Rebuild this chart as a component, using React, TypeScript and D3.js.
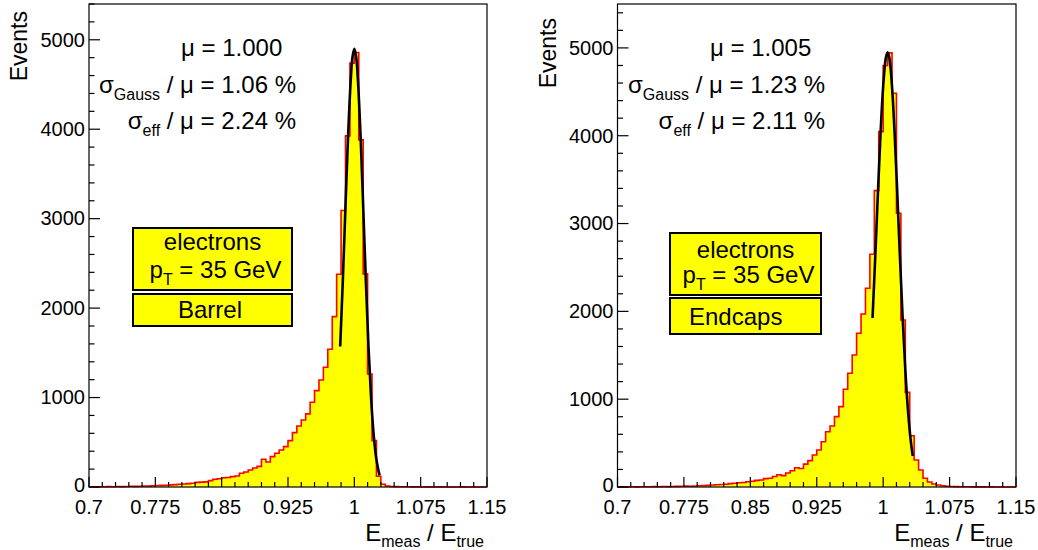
import React from "react";
import * as d3 from "d3";

// ---------- data ----------
const binLow = 0.7;
const binHigh = 1.15;
const binWidth = 0.005;

const barrelCounts = [
  2, 1, 3, 2, 4, 3, 5, 4, 6, 8, 7, 9, 12, 10, 14,
  16, 18, 20, 24, 26, 30, 34,
  38, 42, 52, 55, 57, 71, 86, 92,
  103, 107, 116, 123, 153, 168, 190, 213, 231,
  310, 280, 340, 378, 414, 451,
  518, 608, 682, 749, 817, 947, 1077, 1197, 1339, 1540, 1905, 2379, 3091, 3926, 4739,
  4858, 3881, 2383, 1264, 518, 120, 30, 12, 6, 4,
  3, 2, 2, 1, 1, 0, 1, 0, 0, 1, 0, 0, 0, 0, 1, 0, 0, 0, 0, 0,
];

const endcapCounts = [
  0, 1, 0, 2, 1, 2, 3, 2, 4, 3,
  5, 4, 6, 7, 8, 10, 9, 12, 14, 16,
  18, 22, 25, 28, 32, 38, 42, 48, 52, 60,
  65, 75, 80, 95, 100, 120, 140, 130, 160, 185, 220, 210, 260, 300,
  364, 421, 516, 630, 695, 801, 915, 1113, 1295, 1503, 1750, 1970, 2263, 2650, 3375, 4047,
  4800, 4943, 4484, 3117, 1902, 1078, 584, 307, 193, 100,
  57, 35, 22, 14, 9, 6, 4, 3, 2, 2,
  1, 1, 1, 0, 1, 0, 0, 0, 0, 0,
];

// fit curves, points
const barrelFitX = [0.984, 0.987, 0.99, 0.993, 0.996, 0.998, 1.0, 1.002, 1.004, 1.007, 1.01, 1.013, 1.016, 1.019, 1.022, 1.025, 1.0285];
const barrelFitY = [1570, 2310, 3140, 3940, 4560, 4815, 4900, 4815, 4560, 3940, 3140, 2310, 1570, 985, 570, 305, 130];
const endcapFitX = [0.988, 0.991, 0.994, 0.997, 1.0, 1.003, 1.005, 1.007, 1.01, 1.013, 1.016, 1.019, 1.022, 1.025, 1.028, 1.031, 1.0334];
const endcapFitY = [1925, 2605, 3330, 4015, 4560, 4885, 4950, 4885, 4560, 4015, 3330, 2605, 1925, 1337, 876, 541, 353];

const xTickValues = [0.7, 0.775, 0.85, 0.925, 1.0, 1.075, 1.15];
const xTickLabels = ["0.7", "0.775", "0.85", "0.925", "1", "1.075", "1.15"];
const yTickValues = [0, 1000, 2000, 3000, 4000, 5000];

const barrelStats = ["1.000", "1.06", "2.24"];
const endcapStats = ["1.005", "1.23", "2.11"];
const particleLabel = "electrons";
const ptLabel = "35 GeV";
const regionLabels = ["Barrel", "Endcaps"];

const FONT = "'Liberation Sans', Arial, Helvetica, sans-serif";

type PanelProps = {
  left: number;
  right: number;
  top: number;
  bottom: number;
  yMax: number;
  counts: number[];
  fitX: number[];
  fitY: number[];
  stats: string[];
  region: string;
  layout: {
    yTitleX: number;
    yTitleY: number;
    statStartX: number;
    statEndX: number;
    boxL: number;
    boxR: number;
    box1T: number;
    box1B: number;
    box2T: number;
    box2B: number;
    elecY: number;
    ptY: number;
    regionX: number;
    regionY: number;
  };
};

function Panel(p: PanelProps) {
  const x = d3.scaleLinear().domain([binLow, binHigh]).range([p.left, p.right]);
  const y = d3.scaleLinear().domain([0, p.yMax]).range([p.bottom, p.top]);

  // histogram step points
  const pts: [number, number][] = [[binLow, 0]];
  p.counts.forEach((c, i) => {
    const x0 = binLow + i * binWidth;
    pts.push([x0, c]);
    pts.push([x0 + binWidth, c]);
  });
  pts.push([binHigh, 0]);

  const area = d3
    .area<[number, number]>()
    .x((d) => x(d[0]))
    .y0(y(0))
    .y1((d) => y(d[1]));
  const line = d3
    .line<[number, number]>()
    .x((d) => x(d[0]))
    .y((d) => y(d[1]));
  const stepLine = line(pts.slice(1, pts.length - 1)) || "";

  const fitPts: [number, number][] = p.fitX.map((v, i) => [v, p.fitY[i]]);
  const fitLine = d3
    .line<[number, number]>()
    .x((d) => x(d[0]))
    .y((d) => y(d[1]))
    .curve(d3.curveCatmullRom)(fitPts) || "";

  const xMinor = d3.range(0, 31).map((i) => binLow + i * 0.015);
  const yMinor = d3.range(0, p.yMax + 1, 200);

  const L = p.layout;
  const cx = (L.boxL + L.boxR) / 2;

  return (
    <g>
      <path d={area(pts) || ""} fill="#ffff00" stroke="none" />
      <path d={stepLine} fill="none" stroke="#ff0000" strokeWidth={1.6} />
      <path d={fitLine} fill="none" stroke="#000" strokeWidth={2.6} />

      {/* frame */}
      <rect
        x={p.left}
        y={p.top}
        width={p.right - p.left}
        height={p.bottom - p.top}
        fill="none"
        stroke="#000"
        strokeWidth={1.2}
      />

      {/* x ticks */}
      {xMinor.map((v, i) => (
        <line
          key={"xt" + i}
          x1={x(v)}
          x2={x(v)}
          y1={p.bottom}
          y2={p.bottom - (i % 5 === 0 ? 10 : 5)}
          stroke="#000"
          strokeWidth={1.2}
        />
      ))}
      {xTickValues.map((v, i) => (
        <text
          key={"xl" + i}
          x={x(v)}
          y={p.bottom + 27}
          textAnchor="middle"
          fontSize={20}
          fontFamily={FONT}
        >
          {xTickLabels[i]}
        </text>
      ))}

      {/* y ticks */}
      {yMinor.map((v, i) => (
        <line
          key={"yt" + i}
          x1={p.left}
          x2={p.left + (v % 1000 === 0 ? 11 : 5.5)}
          y1={y(v)}
          y2={y(v)}
          stroke="#000"
          strokeWidth={1.2}
        />
      ))}
      {yTickValues.map((v, i) => (
        <text
          key={"yl" + i}
          x={p.left - 4}
          y={y(v)}
          dy={v === 0 ? "0.24em" : "0.34em"}
          textAnchor="end"
          fontSize={20}
          fontFamily={FONT}
        >
          {String(v)}
        </text>
      ))}

      {/* axis titles */}
      <text
        transform={`translate(${L.yTitleX},${L.yTitleY}) rotate(-90)`}
        textAnchor="end"
        fontSize={23}
        fontFamily={FONT}
      >
        Events
      </text>
      <text x={p.right - 3} y={541} textAnchor="end" fontSize={24} fontFamily={FONT}>
        E
        <tspan fontSize={16} dy={6}>meas</tspan>
        <tspan dy={-6}> / E</tspan>
        <tspan fontSize={16} dy={6}>true</tspan>
      </text>

      {/* fit statistics */}
      <text x={L.statStartX} y={56} fontSize={24} fontFamily={FONT}>
        {"μ = " + p.stats[0]}
      </text>
      <text x={L.statEndX} y={93} textAnchor="end" fontSize={24} fontFamily={FONT}>
        σ
        <tspan fontSize={16} dy={7}>Gauss</tspan>
        <tspan dy={-7}>{" / μ = " + p.stats[1] + " %"}</tspan>
      </text>
      <text x={L.statEndX} y={129} textAnchor="end" fontSize={24} fontFamily={FONT}>
        σ
        <tspan fontSize={16} dy={7}>eff</tspan>
        <tspan dy={-7}>{" / μ = " + p.stats[2] + " %"}</tspan>
      </text>

      {/* label boxes */}
      <rect
        x={L.boxL}
        y={L.box1T}
        width={L.boxR - L.boxL}
        height={L.box1B - L.box1T}
        fill="#ffff00"
        stroke="#000"
        strokeWidth={2}
      />
      <rect
        x={L.boxL}
        y={L.box2T}
        width={L.boxR - L.boxL}
        height={L.box2B - L.box2T}
        fill="#ffff00"
        stroke="#000"
        strokeWidth={2}
      />
      <text x={cx} y={L.elecY} textAnchor="middle" fontSize={24} fontFamily={FONT}>
        {particleLabel}
      </text>
      <text x={cx + 3} y={L.ptY} textAnchor="middle" fontSize={24} fontFamily={FONT}>
        p
        <tspan fontSize={16} dy={7}>T</tspan>
        <tspan dy={-7}>{" = " + ptLabel}</tspan>
      </text>
      <text x={L.regionX} y={L.regionY} fontSize={24} fontFamily={FONT}>
        {p.region}
      </text>
    </g>
  );
}

export default function App() {
  return (
    <svg
      width={1038}
      height={550}
      style={{ position: "absolute", left: 0, top: 0, background: "#fff" }}
    >
      <rect x={0} y={0} width={1038} height={550} fill="#fff" />
      <Panel
        left={89}
        right={487}
        top={4}
        bottom={487}
        yMax={5400}
        counts={barrelCounts}
        fitX={barrelFitX}
        fitY={barrelFitY}
        stats={barrelStats}
        region={regionLabels[0]}
        layout={{
          yTitleX: 27,
          yTitleY: 11,
          statStartX: 181,
          statEndX: 296,
          boxL: 133,
          boxR: 292,
          box1T: 228,
          box1B: 290,
          box2T: 294,
          box2B: 326,
          elecY: 250,
          ptY: 278,
          regionX: 178,
          regionY: 318,
        }}
      />
      <Panel
        left={617.5}
        right={1016}
        top={4}
        bottom={487}
        yMax={5500}
        counts={endcapCounts}
        fitX={endcapFitX}
        fitY={endcapFitY}
        stats={endcapStats}
        region={regionLabels[1]}
        layout={{
          yTitleX: 556,
          yTitleY: 18,
          statStartX: 710,
          statEndX: 825,
          boxL: 670,
          boxR: 821,
          box1T: 233,
          box1B: 295,
          box2T: 298,
          box2B: 334,
          elecY: 258,
          ptY: 283,
          regionX: 689,
          regionY: 325,
        }}
      />
    </svg>
  );
}
